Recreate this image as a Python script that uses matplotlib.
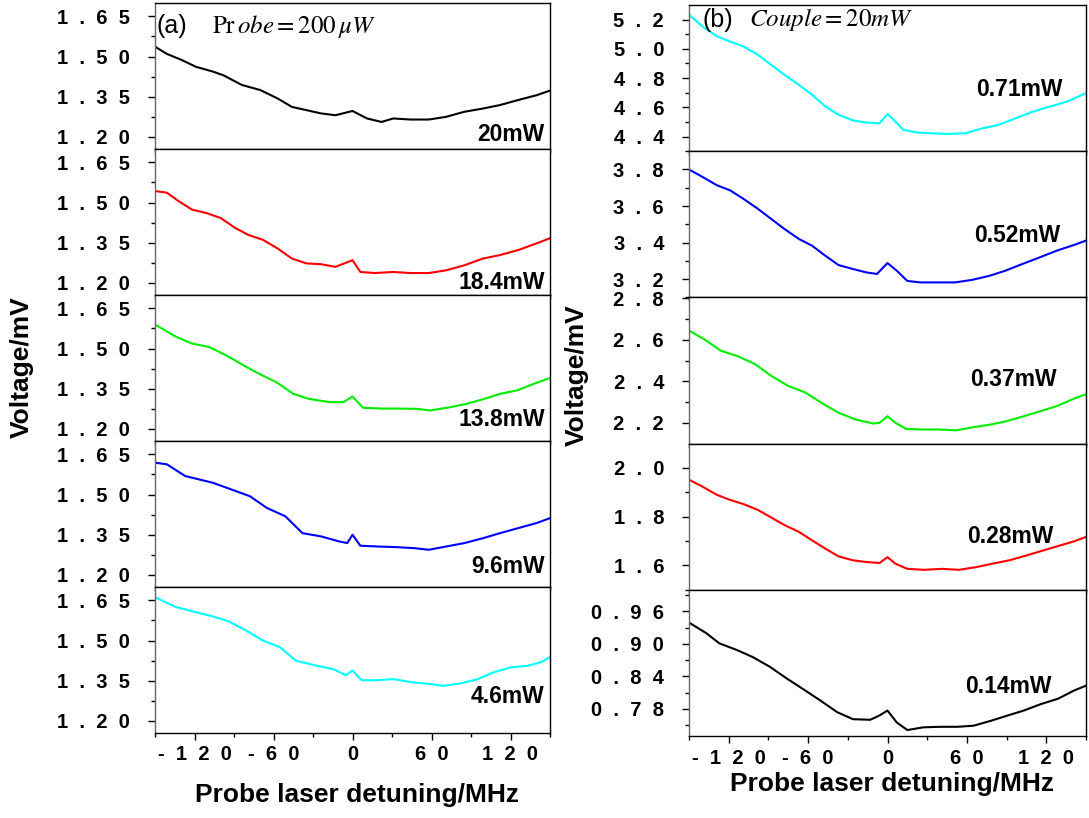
import matplotlib
matplotlib.use("Agg")
import matplotlib.pyplot as plt
from matplotlib.ticker import FixedLocator, FuncFormatter

plt.rcParams["font.family"] = ["Liberation Sans", "DejaVu Sans"]
plt.rcParams["mathtext.fontset"] = "stix"

# ---- (a) probe = 200 uW, coupling power varies ----
a_labels = ["20mW", "18.4mW", "13.8mW", "9.6mW", "4.6mW"]
a_colors = ["black", "red", "#00ee00", "blue", "cyan"]

a_x_20 = [-150, -141, -130, -119, -106, -98, -84, -70, -57, -46, -35, -24, -13, 0, 11, 22, 31, 44, 58, 71, 85, 99, 112, 126, 140, 150]
a_y_20 = [1.537, 1.51, 1.488, 1.462, 1.444, 1.43, 1.394, 1.375, 1.344, 1.312, 1.30, 1.288, 1.281, 1.297, 1.269, 1.256, 1.269, 1.265, 1.265, 1.275, 1.294, 1.306, 1.319, 1.338, 1.356, 1.373]

a_x_184 = [-150, -141, -132, -122, -111, -100, -89, -79, -68, -57, -46, -35, -24, -13, 0, 6, 17, 31, 44, 58, 71, 85, 99, 112, 126, 140, 150]
a_y_184 = [1.543, 1.537, 1.505, 1.474, 1.461, 1.442, 1.405, 1.379, 1.361, 1.329, 1.291, 1.273, 1.27, 1.26, 1.285, 1.241, 1.237, 1.241, 1.237, 1.237, 1.247, 1.266, 1.291, 1.304, 1.323, 1.348, 1.367]

a_x_138 = [-150, -134, -122, -109, -96, -83, -71, -58, -45, -33, -17, -7, 0, 8, 23, 36, 49, 59, 74, 87, 100, 112, 125, 138, 150]
a_y_138 = [1.59, 1.544, 1.519, 1.506, 1.475, 1.438, 1.406, 1.375, 1.331, 1.312, 1.30, 1.30, 1.321, 1.279, 1.276, 1.276, 1.275, 1.269, 1.281, 1.294, 1.312, 1.331, 1.344, 1.369, 1.39]

a_x_96 = [-150, -141, -127, -116, -106, -92, -78, -65, -51, -38, -24, -10, -4, 0, 6, 20, 33, 47, 58, 71, 85, 99, 112, 126, 140, 150]
a_y_96 = [1.619, 1.613, 1.569, 1.556, 1.544, 1.519, 1.494, 1.45, 1.419, 1.356, 1.344, 1.325, 1.319, 1.35, 1.309, 1.306, 1.304, 1.30, 1.294, 1.306, 1.319, 1.337, 1.356, 1.375, 1.394, 1.412]

a_x_46 = [-150, -134, -119, -106, -94, -81, -68, -55, -43, -27, -15, -5, 0, 7, 18, 31, 46, 59, 69, 82, 95, 107, 120, 133, 143, 150]
a_y_46 = [1.662, 1.625, 1.606, 1.59, 1.572, 1.538, 1.50, 1.475, 1.425, 1.406, 1.394, 1.371, 1.388, 1.352, 1.352, 1.356, 1.344, 1.338, 1.331, 1.34, 1.356, 1.381, 1.40, 1.406, 1.419, 1.438]

a_text_y = [0.096, 0.089, 0.144, 0.137, 0.247]
a_ticks = [1.20, 1.35, 1.50, 1.65]

# ---- (b) couple = 20 mW, probe power varies ----
b_labels = ["0.71mW", "0.52mW", "0.37mW", "0.28mW", "0.14mW"]
b_colors = ["cyan", "blue", "#00ee00", "red", "black"]

b_x_071 = [-150, -140, -129, -119, -109, -98, -88, -78, -67, -57, -47, -37, -26, -16, -6, 0, 6, 12, 23, 33, 46, 59, 72, 84, 97, 110, 123, 136, 150]
b_y_071 = [5.234, 5.154, 5.086, 5.05, 5.017, 4.96, 4.891, 4.823, 4.754, 4.686, 4.606, 4.549, 4.51, 4.496, 4.491, 4.555, 4.503, 4.446, 4.427, 4.423, 4.418, 4.423, 4.457, 4.48, 4.526, 4.571, 4.606, 4.64, 4.697]

b_x_052 = [-150, -140, -129, -119, -109, -98, -88, -78, -67, -57, -47, -37, -26, -16, -8, 0, 7, 15, 25, 38, 51, 64, 77, 89, 102, 115, 128, 141, 150]
b_y_052 = [3.80, 3.76, 3.714, 3.686, 3.64, 3.585, 3.53, 3.475, 3.42, 3.383, 3.328, 3.277, 3.255, 3.237, 3.228, 3.288, 3.246, 3.19, 3.182, 3.182, 3.182, 3.196, 3.218, 3.246, 3.283, 3.319, 3.356, 3.387, 3.411]

b_x_037 = [-150, -139, -126, -113, -100, -88, -75, -62, -50, -37, -24, -11, -6, 0, 6, 14, 27, 39, 52, 65, 78, 90, 103, 116, 128, 141, 150]
b_y_037 = [2.645, 2.605, 2.548, 2.521, 2.483, 2.427, 2.378, 2.346, 2.297, 2.249, 2.216, 2.197, 2.20, 2.232, 2.20, 2.171, 2.168, 2.168, 2.164, 2.179, 2.192, 2.208, 2.232, 2.257, 2.281, 2.317, 2.338]

b_x_028 = [-150, -140, -129, -119, -109, -98, -88, -78, -67, -57, -47, -37, -26, -16, -6, 0, 6, 15, 28, 41, 54, 67, 79, 92, 105, 118, 131, 141, 150]
b_y_028 = [1.952, 1.924, 1.89, 1.869, 1.852, 1.828, 1.797, 1.766, 1.738, 1.703, 1.669, 1.637, 1.621, 1.614, 1.61, 1.634, 1.607, 1.586, 1.582, 1.586, 1.582, 1.593, 1.607, 1.621, 1.641, 1.662, 1.683, 1.699, 1.717]

b_x_014 = [-149, -137, -127, -114, -102, -89, -76, -64, -51, -38, -26, -13, -6, 0, 7, 15, 27, 40, 53, 65, 78, 91, 103, 116, 129, 141, 150]
b_y_014 = [0.938, 0.92, 0.901, 0.889, 0.876, 0.858, 0.836, 0.817, 0.796, 0.774, 0.761, 0.76, 0.768, 0.777, 0.755, 0.741, 0.746, 0.747, 0.747, 0.749, 0.758, 0.768, 0.777, 0.789, 0.799, 0.814, 0.823]

b_text_x = [0.94, 0.935, 0.927, 0.917, 0.914]
b_text_y = [0.42, 0.42, 0.44, 0.363, 0.336]
b_ticks = [[4.4, 4.6, 4.8, 5.0, 5.2], [3.2, 3.4, 3.6, 3.8], [2.2, 2.4, 2.6, 2.8], [1.6, 1.8, 2.0], [0.78, 0.84, 0.90, 0.96]]
b_minor = [[4.5, 4.7, 4.9, 5.1], [3.1, 3.3, 3.5, 3.7, 3.9], [2.3, 2.5, 2.7], [1.5, 1.7, 1.9], [0.75, 0.81, 0.87, 0.93, 0.99]]
b_ylims = [(4.3, 5.3), (3.1, 3.9), (2.1, 2.805), (1.5, 2.1), (0.73, 1.0)]
b_dec = [1, 1, 1, 1, 2]

a_data = [(a_x_20, a_y_20), (a_x_184, a_y_184), (a_x_138, a_y_138), (a_x_96, a_y_96), (a_x_46, a_y_46)]
b_data = [(b_x_071, b_y_071), (b_x_052, b_y_052), (b_x_037, b_y_037), (b_x_028, b_y_028), (b_x_014, b_y_014)]

x_major = [-120, -60, 0, 60, 120]
x_minor = [-150, -90, -30, 30, 90, 150]


def spaced(s):
    return "  ".join(s)


def style_axis(ax, bottom):
    ax.set_xlim(-150, 150)
    ax.xaxis.set_major_locator(FixedLocator(x_major))
    ax.xaxis.set_minor_locator(FixedLocator(x_minor))
    ax.tick_params(axis="both", which="major", direction="out", length=5, width=1,
                   labelsize=14.5)
    ax.tick_params(axis="y", which="major", pad=13)
    ax.tick_params(axis="x", which="major", pad=4)
    ax.tick_params(axis="both", which="minor", direction="out", length=3, width=1)
    if bottom:
        ax.xaxis.set_major_formatter(FuncFormatter(lambda v, p: spaced("%d" % v)))
    else:
        ax.tick_params(axis="x", labelbottom=False)
    for sp in ax.spines.values():
        sp.set_linewidth(1.0)
    ax.spines["left"].set_color("#666666")


fig = plt.figure(figsize=(10.89, 8.18), dpi=100)
W, H = 1089.0, 818.0

# left column
for i, ((xs, ys), lab, col) in enumerate(zip(a_data, a_labels, a_colors)):
    top = 3 + 146 * i
    ax = fig.add_axes([155 / W, 1 - (top + 146) / H, 395 / W, 146 / H])
    ax.plot(xs, ys, color=col, lw=1.5)
    ax.set_ylim(1.155, 1.70)
    ax.yaxis.set_major_locator(FixedLocator(a_ticks))
    ax.yaxis.set_minor_locator(FixedLocator([1.275, 1.425, 1.575]))
    ax.yaxis.set_major_formatter(FuncFormatter(lambda v, p: spaced("%.2f" % v)))
    style_axis(ax, i == 4)
    ax.text(0.987, a_text_y[i], lab, transform=ax.transAxes, ha="right", va="center",
            fontsize=16.5, fontweight="bold")
    if i == 0:
        ax.text(0.005, 0.84, "(a)", transform=ax.transAxes, ha="left", va="center",
                fontsize=18)
        ax.text(0.145, 0.84, r"$\mathrm{Pr}\,obe = 200\,\mu W$", transform=ax.transAxes,
                ha="left", va="center", fontsize=18)

# right column
for i, ((xs, ys), lab, col) in enumerate(zip(b_data, b_labels, b_colors)):
    top = 5 + 146.2 * i
    ax = fig.add_axes([689 / W, 1 - (top + 146.2) / H, 397 / W, 146.2 / H])
    ax.plot(xs, ys, color=col, lw=1.5)
    ax.set_ylim(*b_ylims[i])
    ax.yaxis.set_major_locator(FixedLocator(b_ticks[i]))
    ax.yaxis.set_minor_locator(FixedLocator(b_minor[i]))
    fmt = "%%.%df" % b_dec[i]
    ax.yaxis.set_major_formatter(FuncFormatter(lambda v, p, f=fmt: spaced(f % v)))
    style_axis(ax, i == 4)
    ax.text(b_text_x[i], b_text_y[i], lab, transform=ax.transAxes, ha="right", va="center",
            fontsize=16.5, fontweight="bold")
    if i == 0:
        ax.text(0.035, 0.9, "(b)", transform=ax.transAxes, ha="left", va="center",
                fontsize=18)
        ax.text(0.15, 0.9, r"$Couple = 20mW$", transform=ax.transAxes,
                ha="left", va="center", fontsize=18)

fig.text(22 / W, 1 - 367 / H, "Voltage/mV", rotation=90, ha="center", va="center",
         fontsize=19, fontweight="bold")
fig.text(577 / W, 1 - 375 / H, "Voltage/mV", rotation=90, ha="center", va="center",
         fontsize=19, fontweight="bold")
fig.text(357 / W, 1 - 795 / H, "Probe laser detuning/MHz", ha="center", va="center",
         fontsize=19, fontweight="bold")
fig.text(892 / W, 1 - 784 / H, "Probe laser detuning/MHz", ha="center", va="center",
         fontsize=19, fontweight="bold")

# tick labels are bold in the original; set after a first draw so they exist
fig.canvas.draw()
for ax in fig.axes:
    for lab in ax.get_xticklabels() + ax.get_yticklabels():
        lab.set_fontweight("bold")

fig.savefig("out.png", dpi=100)
